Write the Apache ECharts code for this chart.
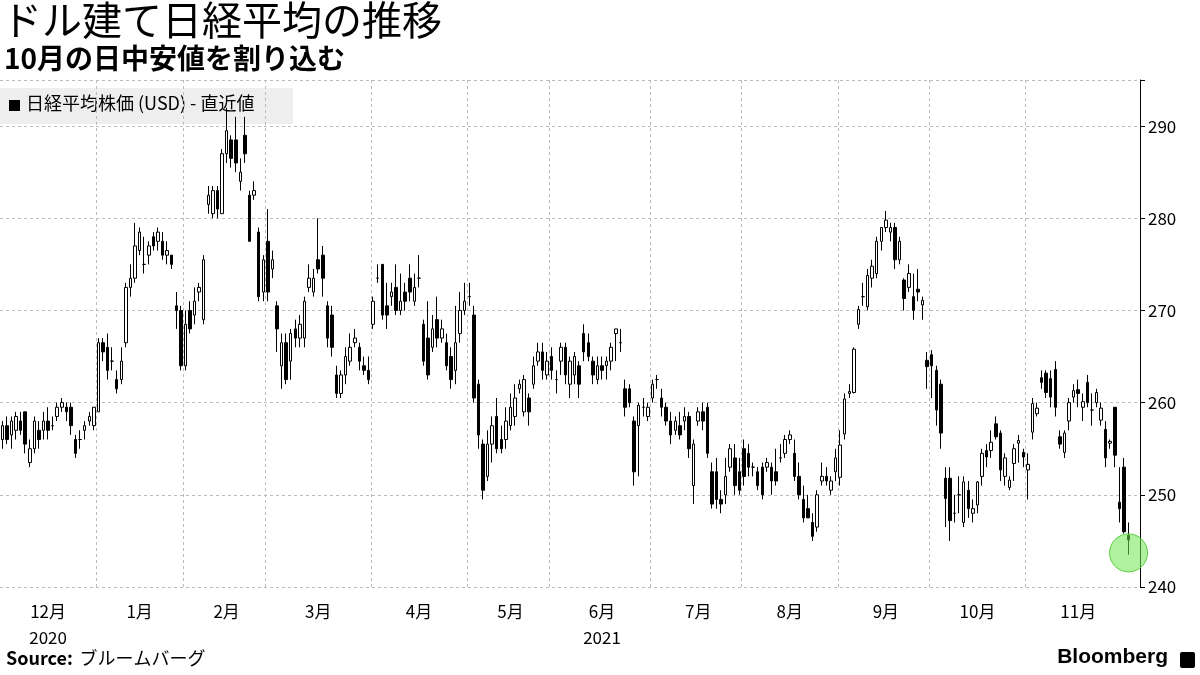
<!DOCTYPE html>
<html><head><meta charset="utf-8">
<script src="https://cdn.jsdelivr.net/npm/echarts@6/dist/echarts.min.js"></script>
<style>html,body{margin:0;padding:0;background:#fff}#c{width:1200px;height:675px}</style>
</head><body><div id="c"></div>
<script>
// candles: [open, close, low, high]
const dec20=[[256,257.5,255,258],[257.5,256,255.5,258.5],[256.5,258,255,258.5],[257,258.5,256,259],[258,257,256.5,259],[259,255.5,254.5,259],[253.5,255,253,256],[255,258,254.5,258.5],[257,256,255,258],[257,258,256,259],[258,257,256,259.5],[257.5,257.5,257,258.5],[258.5,259.5,258,260],[259.5,260,259,260.5],[259.5,259,258,260],[259.5,257.5,256.5,260],[256,254.5,254,256.5],[256,256,255,257],[257,257.5,256,258],[258,258.5,257.5,259],[257.5,259.5,257,259.5]];
const jan21=[[259,266.5,259,267],[266.5,265.5,264.5,267],[266,263.5,262.5,267.5],[264.5,264.5,263.5,266],[262.5,261.5,261,263.5],[262.5,264.5,262,266],[266.5,272.5,266,273],[272.5,273.5,271.5,275],[273.5,277,273,279.5],[276.5,278.5,276,279],[275,275,274,278],[276,277,275,277.5],[278,277,276.5,278.5],[277.5,278.5,276.5,279],[277.5,276,275.5,278.5],[276,276.5,275,277.5],[276,275,274.5,276],[270.5,270,268,272],[270,264,263.5,270.5]];
const feb21=[[264,268.5,263.5,270],[270,268,267.5,271],[269.5,271,268.5,272.5],[272,272.5,271,273],[269,275.5,268.5,276],[281.5,282.5,280.5,283.5],[280.5,283,280,283.5],[283,281,280,283.5],[280.5,287,280.5,287.5],[287,289.5,286,292],[288.5,286.5,285.5,289],[288.5,286,285,291],[284,285,283,286.5],[289,287,286,291],[282.5,277.5,277.5,283],[282.5,283,282,284],[278.5,271.5,271,279],[272,275.5,271,276]];
const mar21=[[277.5,272,271,281],[274.5,275.5,273.5,276.5],[270.5,268,265.5,271],[264,266.5,261.5,267.5],[266.5,262.5,262,267.5],[264.5,267.5,262.5,268],[268,267,266,269],[267,268.5,266,269.5],[267,271,266,271.5],[272.5,273.5,272,275],[272,273.5,271.5,274.5],[275.5,274.5,274,280],[276,273.5,271.5,277],[270.5,267,266,271],[269.5,266,265,270.5],[263,261,260.5,264],[261,263,260.5,263.5],[263,265,262,266],[264.5,266,264,267.5],[266.5,267,266,268],[266,264.5,263.5,266.5],[264,263.5,263,265],[263.5,262.5,262,265]];
const apr21=[[268.5,271,268,271.5],[273.5,273.5,273,275],[275,269.5,269,275],[270.5,269.5,268,273],[271.5,272,270.5,273],[272.5,270,269.5,275],[270,271,269.5,274],[272,271,270,273],[273.5,272,271,275],[271,272.5,270.5,274],[273.5,273.5,272.5,276],[268.5,264.5,264,269],[267,263,262.5,271],[266,268,265.5,269.5],[269,267,266,271.5],[267,268,266.5,269],[266.5,264,263.5,267.5],[265,262.5,261.5,266],[263.5,266.5,262,270.5],[267.5,270,266.5,272],[270,271,269.5,273]];
const may21=[[271.5,271.5,270.5,273],[269.5,260.5,260,270.5],[262,256.5,255,262.5],[255.5,250.5,249.5,256],[252,255.5,251.5,257],[255.5,257.5,253.5,258.5],[258.5,255,254.5,260.5],[256,255,254.5,257.5],[256,258,255,259.5],[257.5,259.5,257,261],[258.5,260.5,257.5,262],[261.5,262,261,262.5],[259,262.5,258.5,263],[260.5,259,257.5,261],[262,264,261.5,265],[264.5,265.5,264,266.5],[265.5,263.5,262.5,266.5],[263,264.5,262.5,265.5]];
const jun21=[[265,263.5,262.5,266],[262.5,262.5,261,263.5],[264.5,266,263,266.5],[266,263,262,266.5],[262,264.5,260.5,265],[263,265,262,265.5],[264,262,260.5,264.5],[267.5,265.5,264.5,268.5],[266.5,265,264.5,267.5],[264.5,263,262,265],[262.5,264,262,265],[264,263.5,262.5,265],[264,264.5,262.5,265],[264.5,266,263.5,266.5],[267.5,268,264.5,268],[266.5,266.5,265.5,268],[261.5,259.5,258.5,262.5],[261.5,260,259.5,262],[258,252.5,251,258.5],[257.5,259.7,252,260],[259.5,259.5,258.5,260.5],[258.5,259.5,258,260]];
const jul21=[[260.5,262,260,262.5],[262.5,262.5,261.5,263],[260.5,259.5,258.5,261.5],[259.5,258,257.5,260],[258,256.5,255.5,259],[257,258,256.5,258.5],[257.5,256.5,256,259],[258,258.5,257,259.5],[258.5,255,254,259],[251,255.5,249,256],[258,259,257.5,259.5],[259,258,257,260],[259.5,254.5,254,260],[252.5,249,248.5,253.5],[252.5,249.5,248.5,254],[249.5,249,248,250.5],[250,252,249,254],[253,255,252.5,255.5],[254,251,250,255.5],[252.5,250.5,250,254]];
const aug21=[[255,252,251,256],[254.5,253,252,255.5],[253,253,252,253.5],[252.5,251,250.5,253],[253,250,249.5,253.5],[253,253.5,252.5,254],[253,251.5,250,253.5],[252.5,251.5,251,255],[254,254,253.5,255.5],[254.5,256,254,256.5],[256,256.5,255.5,257],[254.5,252,251.5,256],[252,250,249.5,253.5],[249.5,247.5,247,251],[248.5,247.5,247.5,250],[247,245.5,245,248],[246.5,250,246,250.5],[251.5,252,251,253.5],[252,251.5,251,253],[250.5,251.5,250,252],[252.5,254,251.5,255]];
const sep21=[[251.9,255.4,251,257],[256.6,260.4,256,261],[261,261.2,260.5,262],[261.1,265.8,261,266],[268.5,270.1,268,270.5],[271.5,271.5,270.5,273],[270.4,273.8,270,274.5],[273.5,274.8,272.5,275.5],[274,277.5,273.5,278],[277.5,279,276.5,279],[279,279.8,278.5,280.8],[278.5,279,277.5,279.5],[279,275.5,274.5,279.5],[275.5,277.5,275,278],[273.3,271.3,270,273.5],[272.5,274,272,275],[271.5,270,269,274],[272.3,272,271,274.5],[270.6,271.1,269,271.5],[264.6,263.9,261.5,265.5]];
const oct21=[[265.2,264,260.5,265.7],[263.5,259.2,257.5,264],[262,256.7,255,262.5],[251.8,249.6,246.5,253],[251.8,247.2,245,253],[248,248,247,250],[250,250,248,252],[247,251.4,246.5,252],[250.5,248.5,247.5,251.5],[248,248.5,247,249.5],[248.9,251.4,248,251.5],[252,254.5,251,255],[254.8,254.1,253,255.5],[254.8,255.7,254,257],[257.7,256.3,256,258.5],[256.7,252.7,251.5,257],[252,254,251,254.5],[250.8,251.6,250.5,252],[253.4,255,251.5,255.5],[255.6,255.9,253.5,256.5],[254.6,254.1,253,255]];
const nov21=[[252.7,253.3,249.5,254.5],[256.8,259.9,256,260.5],[258.8,259.4,258.5,260],[262.7,262.2,261.5,263.5],[263.2,261.1,260.5,263.5],[262.6,260.6,259.5,263.5],[263.6,259.5,258.5,264.5],[256.3,255.5,255,257],[254.6,256.7,254,257],[258,260,257,260.5],[260.6,261.3,260,262],[261.4,261,259.5,262.5],[259.5,260.1,258,261],[262.2,260,259.5,263],[259.2,259.2,257.5,261],[260,261.1,259.5,261.5],[258.1,259.4,257.5,260],[257.1,254,253,258],[255.6,255.8,255,256],[259.5,254.3,253,259.5],[249.2,248.5,247,253],[253,246,245.8,254],[245.6,245.1,243.5,247]];
const months=[dec20,jan21,feb21,mar21,apr21,may21,jun21,jul21,aug21,sep21,oct21,nov21];
const monthLabels=['12月\n2020','1月','2月','3月','4月','5月','6月\n2021','7月','8月','9月','10月','11月'];
const yTicks=[240,250,260,270,280,290];
const markValue=243.7;

const categories=[],data=[],labelAt={},starts=new Set();
months.forEach((m,mi)=>{
  starts.add(categories.length);
  labelAt[categories.length+Math.floor(m.length/2)]=monthLabels[mi];
  m.forEach((d,i)=>{categories.push(mi+'-'+i);data.push(d);});
});
const lastIdx=categories.length-1;
categories.push('pad-1','pad-2');

const chart=echarts.init(document.getElementById('c'));
const F='"Noto Sans CJK JP", "Noto Sans", sans-serif';
chart.setOption({
  animation:false,
  textStyle:{fontFamily:F},
  grid:{left:0,right:60,top:80,bottom:88},
  xAxis:{type:'category',data:categories,boundaryGap:true,
    axisLine:{show:false},axisTick:{show:false},
    axisLabel:{interval:(i)=>labelAt[i]!==undefined,formatter:(v,i)=>labelAt[i]||'',color:'#000',fontSize:17,margin:12,lineHeight:26,fontFamily:F},
    splitLine:{show:true,interval:(i)=>starts.has(i)&&i>0,lineStyle:{color:'#bbb',type:[3,3]}}},
  yAxis:{type:'value',position:'right',min:240,max:295,interval:10,
    axisLine:{show:true,lineStyle:{color:'#000'}},axisTick:{show:true,length:5,lineStyle:{color:'#000'}},
    axisLabel:{color:'#000',fontSize:17,margin:8,formatter:(v)=>yTicks.includes(v)?v:''},
    splitLine:{lineStyle:{color:'#bbb',type:[3,3]}}},
  series:[{type:'candlestick',data:data,barWidth:3,
    itemStyle:{color:'#fff',color0:'#000',borderColor:'#000',borderColor0:'#000',borderWidth:1},
    markPoint:{symbol:'circle',symbolSize:38,silent:true,label:{show:false},
      itemStyle:{color:'rgba(110,230,80,0.55)',borderColor:'rgba(80,200,50,0.9)',borderWidth:1},
      data:[{coord:[lastIdx,markValue]}]}}],
  graphic:[
    {type:'text',left:2,top:0,style:{text:'ドル建て日経平均の推移',font:'40px '+F,fill:'#000'}},
    {type:'text',left:4,top:44,style:{text:'10月の日中安値を割り込む',font:'bold 28px '+F,fill:'#000'}},
    {type:'rect',shape:{x:0,y:88,width:293,height:36},style:{fill:'#eeeeee'}},
    {type:'rect',shape:{x:9,y:100,width:11,height:11},style:{fill:'#000'}},
    {type:'text',left:26,top:94,style:{text:'日経平均株価 (USD) - 直近値',font:'18px '+F,fill:'#000'}},
    {type:'text',left:6,top:649,style:{rich:{b:{font:'bold 18px '+F,fill:'#000'},n:{font:'18px '+F,fill:'#000'}},text:'{b|Source:}  {n|ブルームバーグ}'}},
    {type:'text',right:32,top:647,style:{text:'Bloomberg',font:'bold 21px "Liberation Sans", sans-serif',fill:'#000'}},
    {type:'rect',shape:{x:1180,y:652,width:15,height:16,r:2},style:{fill:'#000'}}
  ]
});
</script></body></html>
